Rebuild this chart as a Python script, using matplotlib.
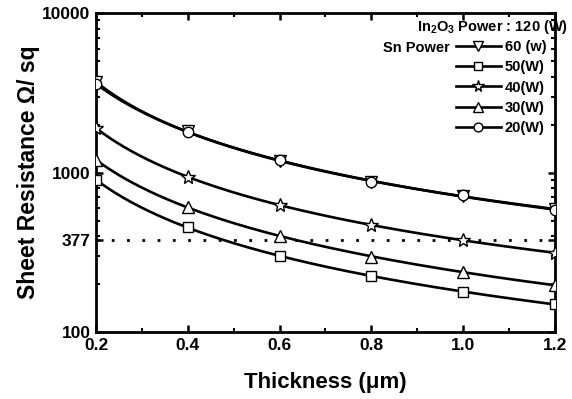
import numpy as np
import matplotlib
matplotlib.use("Agg")
import matplotlib.pyplot as plt

plt.rcParams['font.family'] = ['Liberation Sans', 'DejaVu Sans']
plt.rcParams['font.weight'] = 'bold'
plt.rcParams['mathtext.default'] = 'regular'

# thickness (um)
thickness = [0.2, 0.4, 0.6, 0.8, 1.0, 1.2]

# sheet resistance (ohm/sq) for each Sn power
r_60w = [3690, 1810, 1190, 868, 715, 592]
r_50w = [898, 455, 299, 224, 178, 150]
r_40w = [1900, 937, 626, 469, 377, 313]
r_30w = [1198, 608, 400, 295, 238, 197]
r_20w = [3600, 1795, 1200, 872, 720, 582]

series = [
    ('60 (w)', r_60w, 'v'),
    ('50(W)', r_50w, 's'),
    ('40(W)', r_40w, '*'),
    ('30(W)', r_30w, '^'),
    ('20(W)', r_20w, 'o'),
]
sizes = {'v': 8.5, 's': 7, '*': 10, '^': 8.5, 'o': 7.5}

fig = plt.figure(figsize=(5.72, 3.99), dpi=100)
ax = fig.add_axes([0.168, 0.168, 0.802, 0.799])

x = np.array(thickness)
xs = np.linspace(0.2, 1.2, 200)
handles = []
for label, vals, mk in series:
    # smooth fit through the data points (log-log, quadratic)
    c = np.polyfit(np.log(x), np.log(vals), 2)
    ax.plot(xs, np.exp(np.polyval(c, np.log(xs))), color='black', lw=1.9, zorder=2)
    ax.plot(x, vals, linestyle='none', marker=mk, ms=sizes[mk],
            mfc='white', mec='black', mew=1.0, zorder=3)
    h, = ax.plot([], [], color='black', lw=1.9, marker=mk, ms=sizes[mk] * 0.85,
                 mfc='white', mec='black', mew=1.0)
    handles.append((h, label))

# 377 ohm reference line
ax.axhline(377, color='black', lw=2, linestyle=(0, (1, 4.5)), zorder=1)

ax.set_yscale('log')
ax.set_xlim(0.2, 1.2)
ax.set_ylim(100, 10000)
ax.set_xticks([0.2, 0.4, 0.6, 0.8, 1.0, 1.2])
ax.set_xticklabels(['0.2', '0.4', '0.6', '0.8', '1.0', '1.2'])
ax.set_xticks(np.arange(0.3, 1.2, 0.2), minor=True)
ax.set_yticks([100, 377, 1000, 10000])
ax.set_yticklabels(['100', '377', '1000', '10000'])
ax.yaxis.set_minor_formatter(matplotlib.ticker.NullFormatter())

ax.tick_params(which='both', direction='in', top=True, right=True, labelsize=12.5)
ax.tick_params(which='major', length=5, width=1.8, pad=4)
ax.tick_params(which='minor', length=3, width=1.5)
for sp in ax.spines.values():
    sp.set_linewidth(2)

ax.set_xlabel('Thickness (\u03bcm)', fontsize=16, fontweight='bold', labelpad=14)
ax.set_ylabel('Sheet Resistance \u03a9/ sq', fontsize=16.5, fontweight='bold', labelpad=2)

ax.text(0.699, 0.956, 'In$_2$O$_3$ Power : 120 (W)', transform=ax.transAxes,
        fontsize=10.5, fontweight='bold', va='center')
ax.text(0.625, 0.890, 'Sn Power', transform=ax.transAxes,
        fontsize=10.5, fontweight='bold', va='center')
leg = ax.legend([h for h, _ in handles], [l for _, l in handles],
                loc='upper left', bbox_to_anchor=(0.784, 0.915), frameon=False,
                fontsize=10.5, handlelength=3.1, handletextpad=0.25,
                labelspacing=0.42, borderpad=0, borderaxespad=0)
for t in leg.get_texts():
    t.set_fontweight('bold')

fig.savefig('out.png', dpi=100)
